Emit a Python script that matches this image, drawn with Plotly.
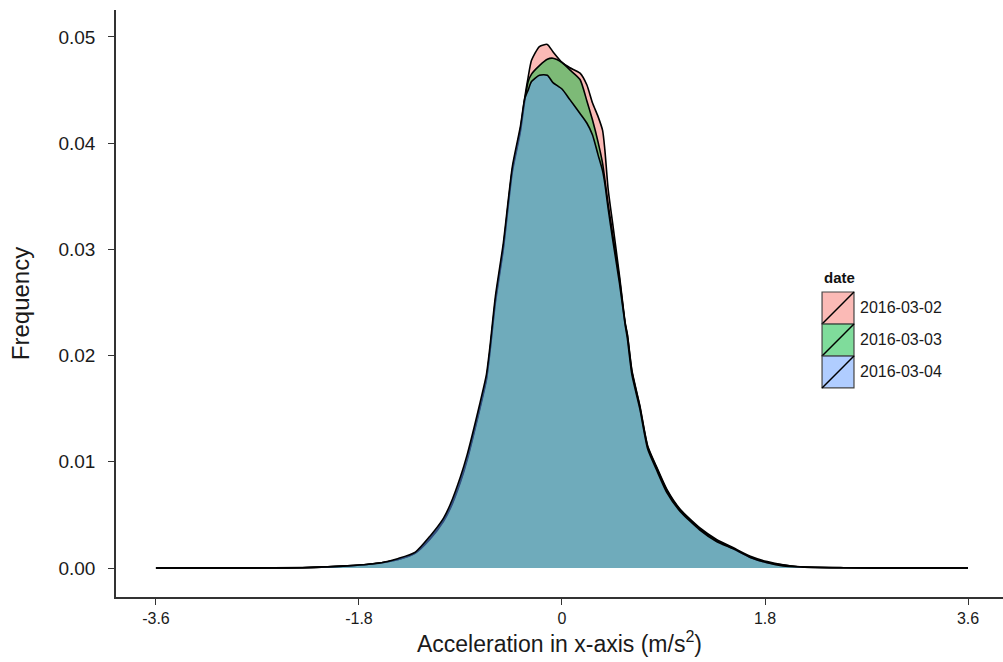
import plotly.graph_objects as go

# x grid (acceleration, m/s^2)
accel = [-3.6, -2.8, -2.3, -1.9, -1.6, -1.45, -1.3, -1.17, -1.05, -0.99, -0.9, -0.84,
         -0.73, -0.67, -0.64, -0.59, -0.52, -0.44, -0.37, -0.33, -0.3, -0.27, -0.2,
         -0.13, -0.08, 0.0, 0.07, 0.16, 0.22, 0.27, 0.32, 0.36, 0.38, 0.41, 0.45, 0.51,
         0.56, 0.58, 0.62, 0.69, 0.76, 0.84, 0.93, 1.05, 1.22, 1.37, 1.52, 1.67, 1.82,
         1.96, 2.11, 2.5, 3.0, 3.6]

dens_0302 = [0.0, 0.00001, 0.00003, 0.0002, 0.0005, 0.0008, 0.0014, 0.0028, 0.0045, 0.0057,
             0.0082, 0.0103, 0.0150, 0.0178, 0.0203, 0.0252, 0.0302, 0.0375, 0.0412, 0.0443,
             0.0462, 0.0478, 0.0491, 0.0493, 0.0486, 0.0476, 0.0471, 0.0466, 0.0455, 0.0438,
             0.0425, 0.0412, 0.0394, 0.0356, 0.0324, 0.0275, 0.0231, 0.0220, 0.0186, 0.0153,
             0.0115, 0.0095, 0.0074, 0.0055, 0.0038, 0.0027, 0.0019, 0.0011, 0.0006, 0.0003,
             0.00012, 0.00003, 0.00001, 0.0]

dens_0303 = [0.0, 0.00001, 0.00003, 0.0002, 0.0005, 0.0008, 0.0014, 0.0027, 0.0044, 0.0056,
             0.0081, 0.0102, 0.0149, 0.0177, 0.0202, 0.0250, 0.0300, 0.0373, 0.0410, 0.0440,
             0.0458, 0.0465, 0.0473, 0.0479, 0.0480, 0.0476, 0.0469, 0.0460, 0.0440, 0.0422,
             0.0401, 0.0381, 0.0366, 0.0342, 0.0314, 0.0272, 0.0230, 0.0219, 0.0185, 0.0152,
             0.0114, 0.0094, 0.0073, 0.0054, 0.0037, 0.0026, 0.0018, 0.0010, 0.0005, 0.0003,
             0.00011, 0.00003, 0.00001, 0.0]

dens_0304 = [0.0, 0.00001, 0.00004, 0.0002, 0.0005, 0.0009, 0.0015, 0.0030, 0.0047, 0.0060,
             0.0086, 0.0107, 0.0154, 0.0182, 0.0207, 0.0256, 0.0306, 0.0378, 0.0415, 0.0442,
             0.0450, 0.0458, 0.0464, 0.0464, 0.0457, 0.0451, 0.0441, 0.0428, 0.0419, 0.0408,
             0.0389, 0.0374, 0.0362, 0.0338, 0.0309, 0.0268, 0.0229, 0.0216, 0.0182, 0.0150,
             0.0112, 0.0092, 0.0071, 0.0053, 0.0036, 0.0025, 0.0018, 0.0010, 0.0005, 0.0002,
             0.0001, 0.00002, 0.00001, 0.0]

dates = ["2016-03-02", "2016-03-03", "2016-03-04"]
fills = ["rgba(248,118,109,0.5)", "rgba(0,186,56,0.5)", "rgba(97,156,255,0.5)"]

x_ticks = [-3.6, -1.8, 0, 1.8, 3.6]
x_tick_text = ["-3.6", "-1.8", "0", "1.8", "3.6"]
y_ticks = [0.0, 0.01, 0.02, 0.03, 0.04, 0.05]
y_tick_text = ["0.00", "0.01", "0.02", "0.03", "0.04", "0.05"]

fig = go.Figure()
for name, ys, fc in zip(dates, [dens_0302, dens_0303, dens_0304], fills):
    fig.add_trace(go.Scatter(
        x=accel, y=ys, name=name, mode="lines", showlegend=False,
        line=dict(color="black", width=1.6, shape="spline", smoothing=0.6),
        fill="tozeroy", fillcolor=fc,
    ))

# ggplot-style legend (keys drawn in paper coordinates)
key_left, key_right = 0.796, 0.832
key_top, key_h = 0.5196, 0.0545
shapes = []
annotations = [dict(text="<b>date</b>", x=key_left, y=0.545, xref="paper", yref="paper",
                    xanchor="left", yanchor="middle", showarrow=False,
                    font=dict(size=15, color="#111"))]
for i, (name, fc) in enumerate(zip(dates, fills)):
    top = key_top - i * key_h
    bot = top - key_h
    shapes.append(dict(type="rect", xref="paper", yref="paper", x0=key_left, x1=key_right,
                       y0=bot, y1=top, fillcolor=fc, line=dict(color="#444", width=1.2)))
    shapes.append(dict(type="line", xref="paper", yref="paper", x0=key_left, x1=key_right,
                       y0=bot, y1=top, line=dict(color="black", width=1.5)))
    annotations.append(dict(text=name, x=key_right + 0.004, y=(top + bot) / 2,
                            xref="paper", yref="paper", xanchor="left", yanchor="middle",
                            showarrow=False, font=dict(size=16, color="#1a1a1a")))

fig.update_layout(
    width=1003, height=662,
    margin=dict(l=116, r=0, t=10, b=65),
    paper_bgcolor="white", plot_bgcolor="white",
    font=dict(family="Liberation Sans, Arial, sans-serif", color="#1a1a1a"),
    showlegend=False,
    shapes=shapes, annotations=annotations,
)
fig.update_xaxes(
    range=[-3.954, 3.91], tickvals=x_ticks, ticktext=x_tick_text,
    showgrid=False, zeroline=False, showline=True, linecolor="#333", linewidth=1.5,
    ticks="outside", ticklen=6, tickcolor="#333", tickwidth=1.2,
    tickfont=dict(size=16),
    title=dict(text="Acceleration in x-axis (m/s<sup>2</sup>)", font=dict(size=23), standoff=4),
)
fig.update_yaxes(
    range=[-0.00273, 0.05254], tickvals=y_ticks, ticktext=y_tick_text,
    showgrid=False, zeroline=False, showline=True, linecolor="#333", linewidth=1.5,
    ticks="outside", ticklen=6, tickcolor="#333", tickwidth=1.2,
    tickfont=dict(size=19), ticklabelstandoff=9,
    title=dict(text="Frequency", font=dict(size=24), standoff=22),
)

fig.write_html("out.html")
